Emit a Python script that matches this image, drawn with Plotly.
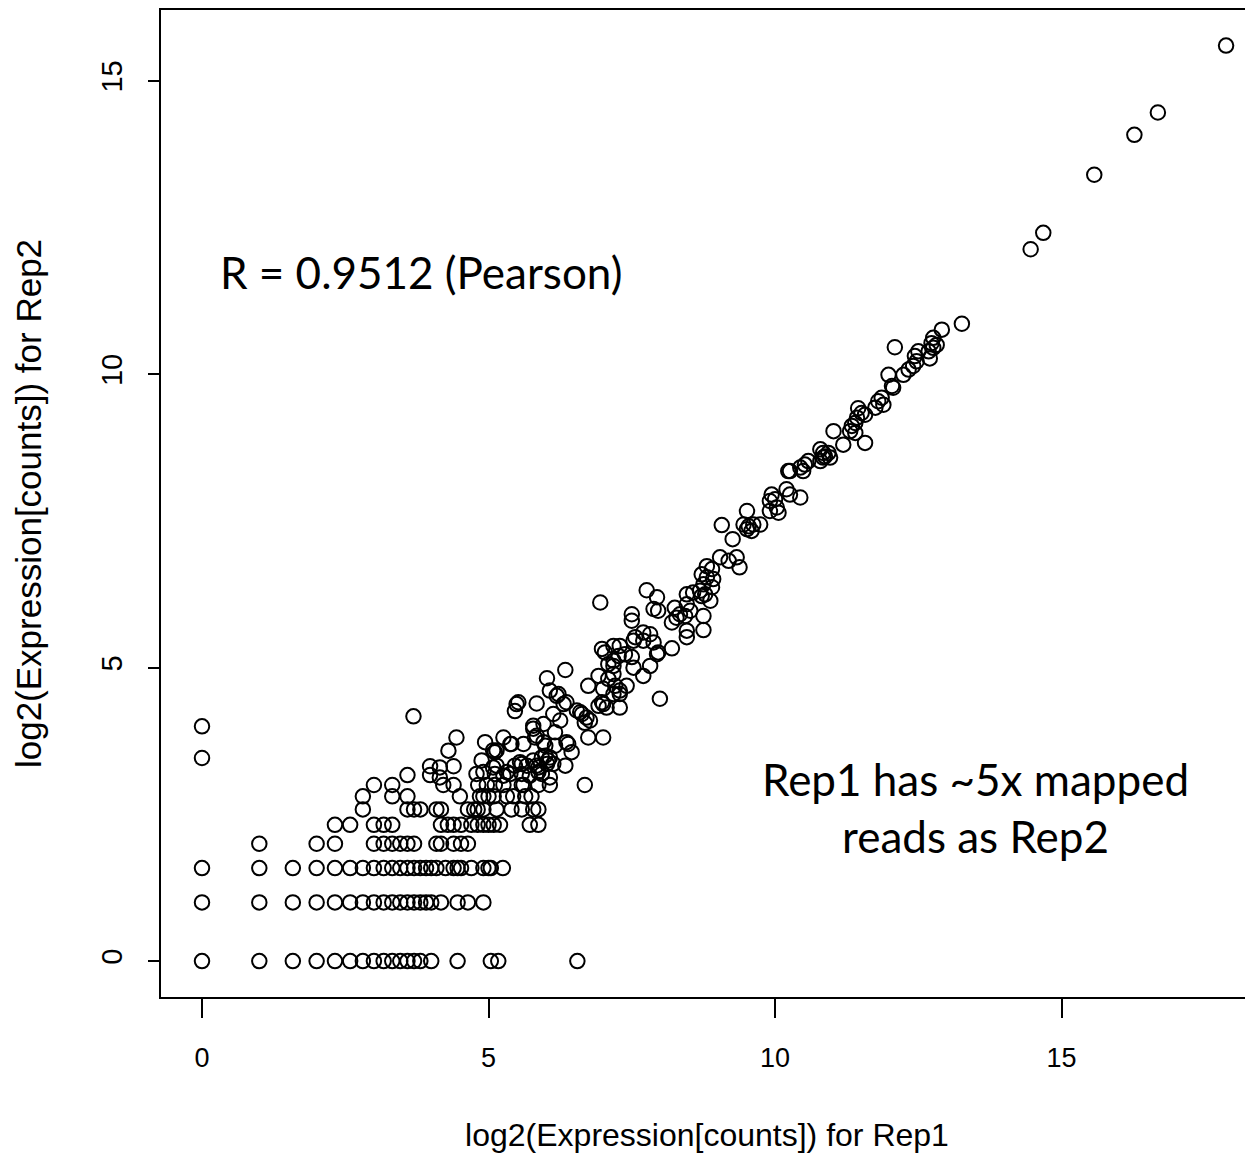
import plotly.graph_objects as go

# ---- low-count grid: Rep2 levels (log2 of small integer counts) and the Rep1 values on each level
rep2_levels = [0, 1, 1.585, 2, 2.322, 2.585, 2.807, 3]
rep1_on_level_0 = [0, 1, 1.585, 2, 2.32, 2.585, 2.807, 3, 3.17, 3.32, 3.46, 3.585, 3.7, 3.81, 4, 4.46, 5.04, 5.17, 6.55]
rep1_on_level_1 = [0, 1, 1.585, 2, 2.32, 2.585, 2.807, 3, 3.17, 3.32, 3.46, 3.585, 3.7, 3.81, 3.91, 4, 4.17, 4.46, 4.64, 4.91]
rep1_on_level_2 = [0, 1, 1.585, 2, 2.32, 2.585, 2.807, 3, 3.17, 3.32, 3.46, 3.585, 3.7, 3.81, 3.91, 4.0, 4.09, 4.25,
                   4.39, 4.46, 4.52, 4.70, 4.91, 5.0, 5.04, 5.25]
rep1_on_level_3 = [1, 2, 2.32, 3, 3.17, 3.32, 3.46, 3.585, 3.7, 4.09, 4.17, 4.39, 4.52, 4.64]
rep1_on_level_4 = [2.32, 2.585, 3.0, 3.17, 3.32, 4.17, 4.29, 4.39, 4.52, 4.70, 4.81, 4.91, 5.0, 5.09, 5.2, 5.72, 5.87]
rep1_on_level_5 = [2.807, 3.585, 3.7, 3.81, 4.09, 4.17, 4.64, 4.75, 4.81, 4.91, 5.14, 5.40, 5.58, 5.78, 5.87]
rep1_on_level_6 = [2.807, 3.32, 3.585, 4.5, 4.85, 4.91, 5.0, 5.09, 5.32, 5.43, 5.64, 5.75]
rep1_on_level_7 = [3.0, 3.32, 4.21, 4.39, 4.82, 4.97, 5.11, 5.26, 5.58, 5.61, 5.87, 6.07, 6.68]
low_rows = [rep1_on_level_0, rep1_on_level_1, rep1_on_level_2, rep1_on_level_3,
            rep1_on_level_4, rep1_on_level_5, rep1_on_level_6, rep1_on_level_7]

# ---- mid-range genes
rep1_mid = [0, 0, 3.585, 3.98, 3.98, 4.15, 4.15, 4.39, 3.69, 4.44, 4.30, 4.79, 4.91, 4.88, 4.94, 5.08, 5.14, 5.26,
            5.38, 5.14, 5.11, 5.26, 5.38, 5.46, 5.67, 5.72, 5.84, 5.87, 5.08, 5.32, 5.55, 5.58, 5.78, 5.87, 6.02,
            5.93, 6.07, 6.34, 6.13, 5.58, 5.99, 6.07, 6.04, 5.93, 5.11, 5.40, 5.61, 5.78, 5.81, 5.99, 6.16, 6.39,
            6.45, 6.36, 5.96, 5.84, 5.96, 6.16, 5.52, 5.46, 5.84, 5.78, 5.49, 6.07, 6.19, 6.31, 6.13, 6.25, 6.36,
            6.02, 6.22, 6.34, 6.54, 6.60, 6.63, 6.71, 6.77, 6.68, 6.74, 7.0, 6.92, 7.0, 7.06, 7.29, 6.98, 6.74,
            6.92, 7.09, 7.21, 7.29, 7.41, 7.18, 7.29, 7.0, 7.18, 7.99, 7.70, 7.82, 7.53, 7.09, 7.18, 7.18, 6.98,
            7.03, 7.18, 7.29, 7.38, 7.50, 7.27, 7.53, 7.70, 7.96, 8.20, 7.94, 7.56, 7.70, 7.82, 7.88, 7.50, 7.50,
            6.95, 7.76, 7.94, 7.88, 7.96, 8.46, 8.57, 8.46, 8.52, 8.43, 8.34, 8.25, 8.28, 8.20, 8.46, 8.46, 8.81,
            8.90, 8.72, 8.81, 8.92, 8.75, 8.90, 8.69, 8.78, 8.87, 8.72, 8.75, 8.75, 9.04, 9.19, 9.33, 9.38, 9.26,
            9.07, 9.51, 9.54, 9.62, 9.74, 9.51, 9.59, 9.45, 9.94, 9.91, 10.0, 10.03, 9.91, 10.06, 10.2, 10.26, 10.44]
rep2_mid = [3.46, 4.0, 3.17, 3.32, 3.17, 3.30, 3.13, 3.32, 4.17, 3.81, 3.585, 3.19, 3.22, 3.42, 3.73, 3.59, 3.59, 3.81,
            3.70, 3.33, 3.19, 3.16, 3.19, 3.33, 3.33, 3.16, 3.33, 3.22, 3.30, 3.22, 3.39, 3.19, 3.42, 3.30, 3.36,
            3.19, 3.13, 3.33, 3.36, 3.36, 3.50, 3.47, 3.42, 3.47, 3.56, 3.70, 3.70, 3.96, 3.81, 3.67, 3.67, 3.70,
            3.56, 3.73, 3.73, 3.84, 4.04, 3.90, 4.41, 4.26, 4.39, 4.01, 4.38, 4.61, 4.52, 4.38, 4.21, 4.10, 4.41,
            4.82, 4.55, 4.96, 4.27, 4.24, 4.21, 4.15, 4.10, 4.06, 3.81, 3.81, 4.35, 4.38, 4.32, 4.32, 4.41, 4.69,
            4.86, 4.81, 4.69, 4.61, 4.69, 4.55, 4.55, 4.64, 4.89, 4.47, 4.86, 5.03, 5.0, 5.06, 5.03, 5.12, 5.32,
            5.26, 5.37, 5.37, 5.23, 5.18, 5.2, 5.46, 5.46, 5.26, 5.33, 5.23, 5.52, 5.60, 5.57, 5.43, 5.91, 5.80,
            6.11, 6.32, 6.20, 6.00, 5.97, 6.25, 6.28, 6.08, 5.97, 5.88, 5.91, 6.02, 5.85, 5.77, 5.63, 5.52, 6.73,
            6.68, 6.59, 6.54, 6.51, 6.42, 6.37, 6.31, 6.25, 6.14, 6.22, 5.88, 5.64, 6.88, 6.82, 6.88, 6.71, 7.19,
            7.43, 7.67, 7.41, 7.44, 7.44, 7.36, 7.33, 7.44, 7.95, 7.84, 7.87, 7.73, 7.67, 7.64, 8.04, 7.95, 7.90]

# ---- highly expressed genes
rep1_high = [10.23, 10.26, 10.44, 10.49, 10.52, 10.58, 10.79, 10.84, 10.93, 10.84, 10.96, 10.79, 10.87, 11.02, 11.19,
             11.31, 11.40, 11.34, 11.40, 11.43, 11.45, 11.51, 11.57, 11.57, 11.75, 11.80, 11.86, 11.89, 11.98, 12.04,
             12.06, 12.09, 12.24, 12.33, 12.41, 12.47, 12.44, 12.50, 12.68, 12.70, 12.76, 12.73, 12.82, 12.76, 12.91,
             13.26, 14.46, 14.68, 15.57, 16.27, 16.68, 17.87]
rep2_high = [8.35, 8.35, 8.41, 8.35, 8.46, 8.52, 8.72, 8.66, 8.66, 8.58, 8.58, 8.52, 8.60, 9.03, 8.80,
             9.03, 9.00, 9.12, 9.17, 9.26, 9.42, 9.34, 9.31, 8.83, 9.43, 9.54, 9.60, 9.48, 9.99, 9.80,
             9.77, 10.46, 9.99, 10.08, 10.14, 10.22, 10.31, 10.39, 10.39, 10.27, 10.45, 10.53, 10.50, 10.62, 10.76,
             10.86, 12.13, 12.41, 13.40, 14.08, 14.46, 15.60]

x_vals, y_vals = [], []
for level, row in zip(rep2_levels, low_rows):
    x_vals += row
    y_vals += [level] * len(row)
x_vals += rep1_mid + rep1_high
y_vals += rep2_mid + rep2_high

fig = go.Figure(go.Scatter(
    x=x_vals, y=y_vals, mode="markers",
    marker=dict(symbol="circle-open", size=14.5, color="black", line=dict(width=2, color="black")),
    hoverinfo="x+y",
))

fam = "Liberation Sans, Arial, sans-serif"
tick_font_x = dict(family=fam, size=27, color="black")
tick_font_y = dict(family=fam, size=29, color="black")
fig.update_layout(
    width=1245, height=1145,
    margin=dict(l=153, r=0, t=0, b=156),
    paper_bgcolor="white", plot_bgcolor="white",
    showlegend=False,
    font=dict(family=fam, size=27, color="black"),
    xaxis=dict(
        range=[-0.7155, 18.34], tickvals=[0, 5, 10, 15], ticks="outside", ticklen=19, tickwidth=1.5,
        tickcolor="black", showline=True, linecolor="black", linewidth=1.5, mirror=True,
        showgrid=False, zeroline=False, tickfont=tick_font_x, ticklabelstandoff=17,
        title=dict(text="log2(Expression[counts]) for Rep1", font=dict(family=fam, size=32, color="black"), standoff=55),
    ),
    yaxis=dict(
        range=[-0.612, 16.207], tickvals=[0, 5, 10, 15], ticks="outside", ticklen=11, tickwidth=1.5,
        tickcolor="black", showline=True, linecolor="black", linewidth=1.5, mirror=False,
        showgrid=False, zeroline=False, tickfont=tick_font_y, tickangle=-90, ticklabelstandoff=15,
        title=dict(text="log2(Expression[counts]) for Rep2", font=dict(family=fam, size=35, color="black"), standoff=43),
    ),
)

note_font = dict(family="Lato, Open Sans, sans-serif", size=44, color="black")
fig.add_annotation(x=0.28, y=11.75, xref="x", yref="y", text="R = 0.9512 (Pearson)", showarrow=False,
                   xanchor="left", yanchor="middle", font=note_font)
fig.add_annotation(x=13.49, y=2.61, xref="x", yref="y", text="Rep1 has ~5x mapped<br>reads as Rep2",
                   showarrow=False, xanchor="center", yanchor="middle", align="center", font=note_font)

fig.write_html("out.html")
